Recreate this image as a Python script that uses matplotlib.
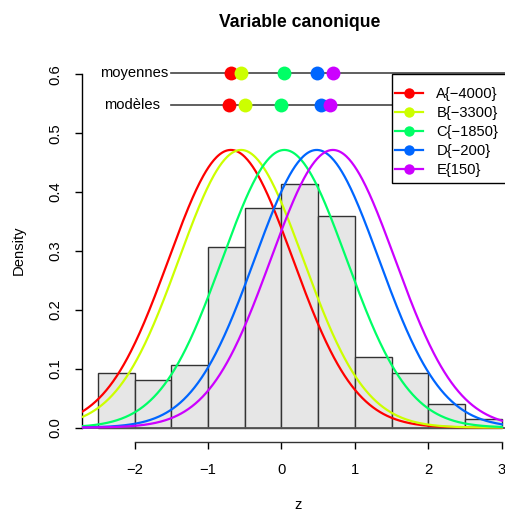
import numpy as np
import matplotlib
matplotlib.use("Agg")
import matplotlib.pyplot as plt
from matplotlib.lines import Line2D
from matplotlib.patches import Rectangle

plt.rcParams["font.family"] = ["Liberation Sans", "DejaVu Sans"]
plt.rcParams["font.size"] = 10.6

# histogram (density) of canonical variable z
breaks = [-2.5, -2.0, -1.5, -1.0, -0.5, 0.0, 0.5, 1.0, 1.5, 2.0, 2.5, 3.0]
dens = [0.093, 0.080, 0.107, 0.306, 0.373, 0.413, 0.360, 0.120, 0.093, 0.040, 0.014]

groups = ["A{\u22124000}", "B{\u22123300}", "C{\u22121850}", "D{\u2212200}", "E{150}"]
colors = ["#FF0000", "#CCFF00", "#00FF66", "#0066FF", "#CC00FF"]
moyennes = [-0.69, -0.55, 0.04, 0.48, 0.70]
modeles = [-0.72, -0.49, 0.00, 0.54, 0.66]
sd = 0.846
y_moy, y_mod = 0.602, 0.548

fig = plt.figure(figsize=(5.06, 5.13), dpi=100)
W, H = 506, 513
ax = fig.add_axes([81.7 / W, 1 - 441.7 / H, (518 - 81.7) / W, (441.7 - 60.2) / H])
ax.set_xlim(-2.72, 3.22); ax.set_ylim(-0.024, 0.624)

w = np.diff(breaks)
ax.bar(breaks[:-1], dens, width=w, align="edge", color="#E6E6E6", edgecolor="#333333", lw=1, zorder=1)
ax.axhline(0, color="#555555", lw=1.3, zorder=2)

zz = np.linspace(-3, 3, 500)
for m, c in zip(moyennes, colors):
    ax.plot(zz, np.exp(-0.5 * ((zz - m) / sd) ** 2) / (sd * np.sqrt(2 * np.pi)), color=c, lw=1.6, zorder=3)

# rows of group points
for yv, lab, pts, off in [(y_moy, "moyennes", moyennes, -2), (y_mod, "modèles", modeles, -8)]:
    ax.plot([-1.5, 3.3], [yv, yv], color="#444444", lw=1.2, zorder=3, clip_on=False)
    ax.annotate(lab, (-1.5, yv), xytext=(off, 0), textcoords="offset points", ha="right", va="center",
                fontsize=10.6, annotation_clip=False)
    for p, c in zip(pts, colors):
        ax.plot(p, yv, "o", color=c, ms=10, mec="none", zorder=4, clip_on=False)

# legend box (R style, anchored at x=1.5, y=0.6)
ax.add_patch(Rectangle((1.5, 0.415), 1.8, 0.185, facecolor="white", edgecolor="black", lw=1.0,
                       zorder=5, clip_on=False))
handles = [Line2D([], [], color=c, lw=1.6, marker="o", ms=7.5, mec="none") for c in colors]
leg = ax.legend(handles, groups, loc="upper left", bbox_to_anchor=(1.547, 0.579),
                bbox_transform=ax.transData, frameon=False,
                borderaxespad=0, borderpad=0, handlelength=1.9,
                handletextpad=0.9, labelspacing=0.34, fontsize=10.6)
leg.set_zorder(6)

for s in ["top", "right"]:
    ax.spines[s].set_visible(False)
ax.spines["left"].set_bounds(0, 0.6)
ax.spines["bottom"].set_bounds(-2, 3)
ax.spines["left"].set_linewidth(1.0); ax.spines["bottom"].set_linewidth(1.0)
ax.spines["bottom"].set_color("#333333")
ax.set_xticks([-2, -1, 0, 1, 2, 3])
ax.set_xticklabels(["\u22122", "\u22121", "0", "1", "2", "3"])
ax.set_yticks(np.arange(0, 0.61, 0.1))
ax.set_yticklabels([f"{v:.1f}" for v in np.arange(0, 0.61, 0.1)], rotation=90, va="center")
ax.tick_params(length=5, width=1, labelsize=10.6)
ax.tick_params(axis="x", pad=10)
ax.tick_params(axis="y", pad=9)

fig.text(299.5 / W, 1 - 23 / H, "Variable canonique", ha="center", va="center", fontsize=12.7, fontweight="bold")
fig.text(298 / W, 1 - 505 / H, "z", ha="center", va="center", fontsize=10.6)
fig.text(18.3 / W, 1 - 250 / H, "Density", ha="center", va="center", rotation=90, fontsize=10.6)

fig.savefig("out.png", dpi=100)
